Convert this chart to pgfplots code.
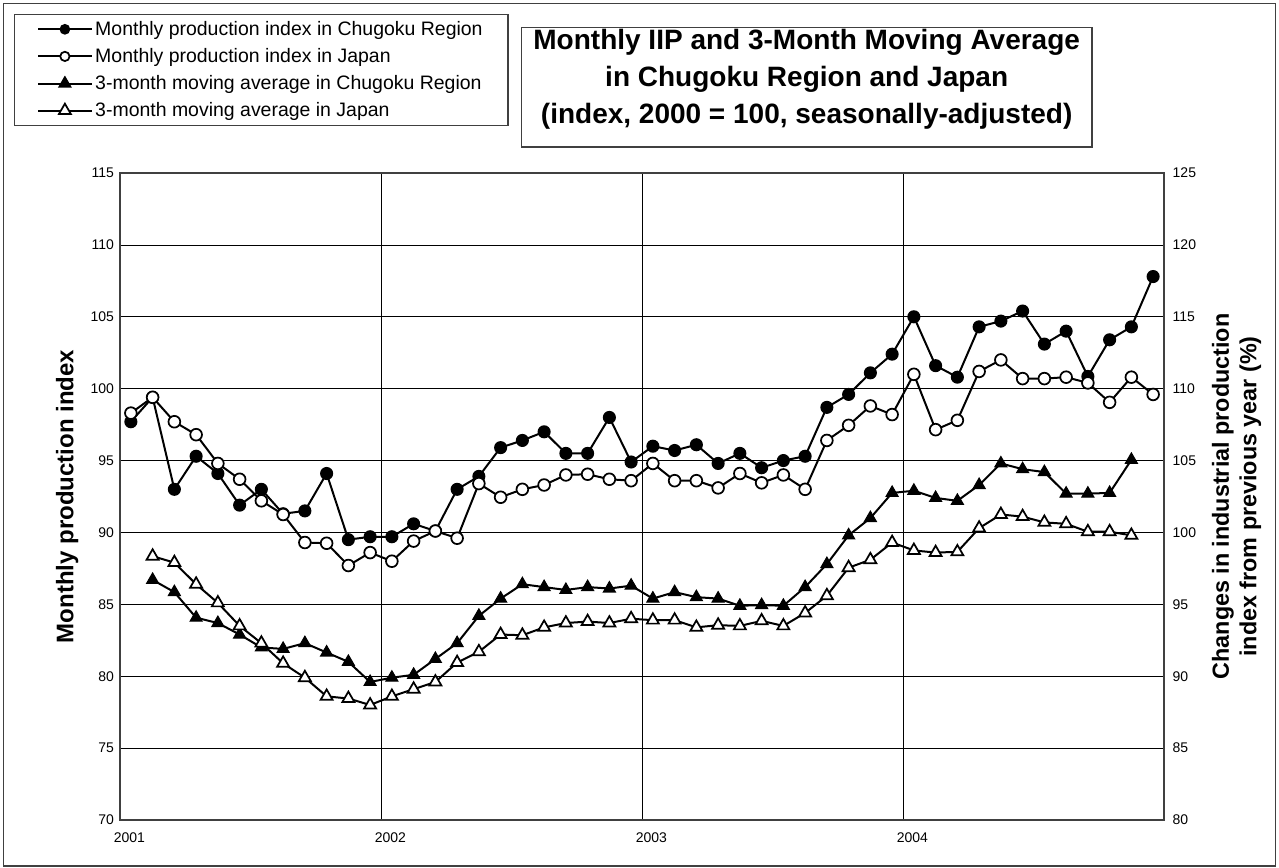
\documentclass[border=0pt]{standalone}
\usepackage{pgfplots}
\usepackage{pgfplotstable}
\pgfplotsset{compat=1.18}
\usepackage{fontspec}
\setmainfont{Liberation Sans}

\pgfplotstableread{
m ch jp
0.5 97.7 98.3
1.5 99.4 99.4
2.5 93.0 97.7
3.5 95.3 96.8
4.5 94.1 94.8
5.5 91.9 93.7
6.5 93.0 92.2
7.5 91.3 91.25
8.5 91.5 89.3
9.5 94.1 89.25
10.5 89.5 87.7
11.5 89.7 88.6
12.5 89.7 88.0
13.5 90.6 89.4
14.5 90.1 90.1
15.5 93.0 89.6
16.5 93.9 93.4
17.5 95.9 92.45
18.5 96.4 93.0
19.5 97.0 93.3
20.5 95.5 94.0
21.5 95.5 94.05
22.5 98.0 93.7
23.5 94.9 93.6
24.5 96.0 94.8
25.5 95.7 93.6
26.5 96.1 93.6
27.5 94.8 93.1
28.5 95.5 94.1
29.5 94.5 93.45
30.5 95.0 94.0
31.5 95.3 93.0
32.5 98.7 96.4
33.5 99.6 97.45
34.5 101.1 98.8
35.5 102.4 98.2
36.5 105.0 101.0
37.5 101.6 97.15
38.5 100.8 97.8
39.5 104.3 101.2
40.5 104.7 102.0
41.5 105.4 100.7
42.5 103.1 100.7
43.5 104.0 100.8
44.5 100.85 100.4
45.5 103.4 99.05
46.5 104.3 100.8
47.5 107.8 99.6
}\monthly

\pgfplotstableread{
m chma jpma
1.5 96.7 98.35
2.5 95.85 97.9
3.5 94.07 96.4
4.5 93.7 95.1
5.5 92.9 93.5
6.5 92.0 92.3
7.5 91.9 90.9
8.5 92.3 89.9
9.5 91.65 88.6
10.5 91.0 88.45
11.5 89.6 88.0
12.5 89.9 88.6
13.5 90.1 89.1
14.5 91.2 89.6
15.5 92.3 90.95
16.5 94.2 91.7
17.5 95.4 92.9
18.5 96.4 92.85
19.5 96.2 93.4
20.5 96.0 93.7
21.5 96.2 93.8
22.5 96.1 93.7
23.5 96.3 94.0
24.5 95.4 93.9
25.5 95.85 93.9
26.5 95.5 93.4
27.5 95.4 93.55
28.5 94.9 93.5
29.5 94.95 93.85
30.5 94.9 93.5
31.5 96.2 94.4
32.5 97.8 95.6
33.5 99.8 97.55
34.5 101.0 98.1
35.5 102.75 99.3
36.5 102.9 98.75
37.5 102.4 98.6
38.5 102.2 98.65
39.5 103.3 100.3
40.5 104.8 101.25
41.5 104.4 101.1
42.5 104.2 100.7
43.5 102.7 100.6
44.5 102.7 100.05
45.5 102.75 100.05
46.5 105.05 99.8
}\movavg

\pgfplotsset{
  chstyle/.style={black, line width=1.5pt, mark=*, mark size=4.4pt, mark options={solid, fill=black, line width=1pt}},
  jpstyle/.style={black, line width=1.5pt, mark=*, mark size=4.4pt, mark options={solid, fill=white, line width=1.3pt}},
  chmastyle/.style={black, line width=1.5pt, mark=triangle*, mark size=5.2pt, mark options={solid, fill=black, line width=0.8pt}},
  jpmastyle/.style={black, line width=1.5pt, mark=triangle*, mark size=5.2pt, mark options={solid, fill=white, line width=1.3pt}},
  common/.style={
    at={(90pt,-615pt)}, anchor=south west,
    scale only axis, width=783pt, height=485.25pt,
    xmin=0, xmax=48,
    tick style={draw=none},
    /pgf/number format/assume math mode=true,
    ticklabel style={font=\fontsize{10.5}{12}\selectfont},
  },
}

\begin{document}
\begin{tikzpicture}
\useasboundingbox (0,0) rectangle (959.25pt,-651pt);
\draw[black!75, line width=1.2pt] (2.5pt,-2.5pt) rectangle (956.5pt,-649.5pt);

% title box
\draw[black!75, line width=0.9pt, fill=white] (391pt,-20.5pt) rectangle (819pt,-110.25pt);
\node[align=center, font=\bfseries\fontsize{21}{27.5}\selectfont] at (605pt,-59.5pt)
  {Monthly IIP and 3-Month Moving Average\\in Chugoku Region and Japan\\(index, 2000 = 100, seasonally-adjusted)};

\begin{axis}[common,
  ymin=70, ymax=115,
  xtick={0,12,24,36,48},
  xticklabels={2001,2002,2003,2004,{}},
  xticklabel style={anchor=north, xshift=7pt, yshift=-6pt},
  ytick={70,75,...,115},
  yticklabel style={anchor=east, xshift=-1pt},
  grid=major,
  major grid style={black, line width=0.6pt},
  axis line style={draw=black!75, line width=1.5pt},
  ylabel={Monthly production index},
  ylabel style={font=\bfseries\fontsize{18}{20}\selectfont, at={(axis description cs:-0.0505,0.5)}, anchor=center},
]
\addplot[chstyle] table[x=m, y=ch] {\monthly};
\addplot[jpstyle] table[x=m, y=jp] {\monthly};
\end{axis}

\begin{axis}[common,
  ymin=80, ymax=125,
  axis x line=none,
  axis y line*=right,
  y axis line style={draw=none},
  ytick={80,85,...,125},
  yticklabel style={anchor=west, xshift=3pt},
  ylabel={Changes in industrial production\\index from previous year (\%)},
  ylabel style={align=center, font=\bfseries\fontsize{17.5}{20.5}\selectfont, at={(axis description cs:1.0695,0.5)}, anchor=center},
  legend cell align=left,
  legend image code/.code={\draw[mark repeat=2, mark phase=2, #1] plot coordinates {(0pt,0pt) (20pt,0pt) (40pt,0pt)};},
  legend style={at={(axis description cs:-0.1015,1.2457)}, anchor=north west,
    draw=black!75, line width=0.8pt, fill=white,
    font=\fontsize{14.6}{17}\selectfont,
    row sep=4.25pt, inner xsep=17pt, inner ysep=3pt,
    nodes={inner xsep=2pt}},
]
\addlegendimage{chstyle, mark size=3.5pt}
\addlegendentry{Monthly production index in Chugoku Region}
\addlegendimage{jpstyle, mark size=3.5pt}
\addlegendentry{Monthly production index in Japan}
\addplot[chmastyle] table[x=m, y=chma] {\movavg};
\addlegendentry{3-month moving average in Chugoku Region}
\addplot[jpmastyle] table[x=m, y=jpma] {\movavg};
\addlegendentry{3-month moving average in Japan}
\end{axis}
\end{tikzpicture}
\end{document}
